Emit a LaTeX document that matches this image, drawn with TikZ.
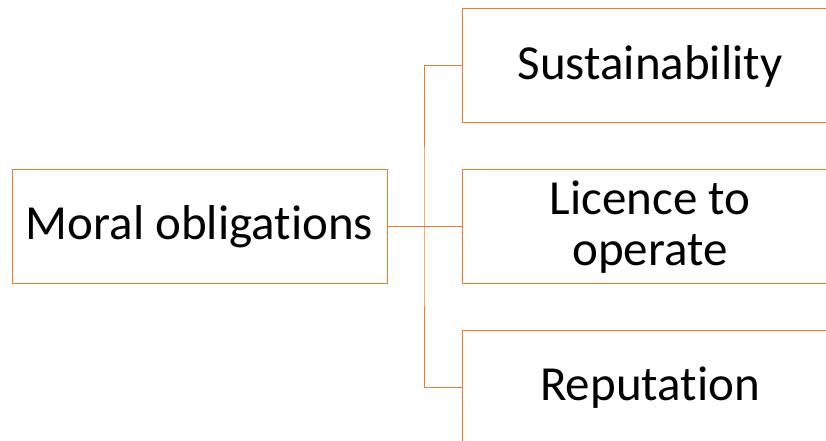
\documentclass[tikz,border=0pt]{standalone}
\usepackage{fontspec}
\setmainfont[Ligatures=NoCommon]{Carlito}
\definecolor{acc}{HTML}{ED7D31}
\begin{document}
\begin{tikzpicture}[x=1pt,y=1pt,
  box/.style={draw=acc, line width=1pt, minimum height=114pt, inner sep=0pt, align=center,
     font=\fontsize{49}{51}\selectfont},
  conn/.style={draw=acc, line width=1pt}]
\useasboundingbox (0,0) rectangle (826,441);
\clip (0,0) rectangle (826,441);
\node[box, minimum width=375pt] (m) at (199.5,214) {Moral obligations};
\node[box, minimum width=376pt] (b1) at (650,375) {Sustainability};
\node[box, minimum width=376pt] (b2) at (650,214) {Licence to\\operate};
\node[box, minimum width=376pt] (b3) at (650,53) {Reputation};
\coordinate (j) at (424,214);
\draw[conn] (m.east) -- (b2.west);
\draw[conn] (b1.west) -| (j) |- (b3.west);
\end{tikzpicture}
\end{document}
